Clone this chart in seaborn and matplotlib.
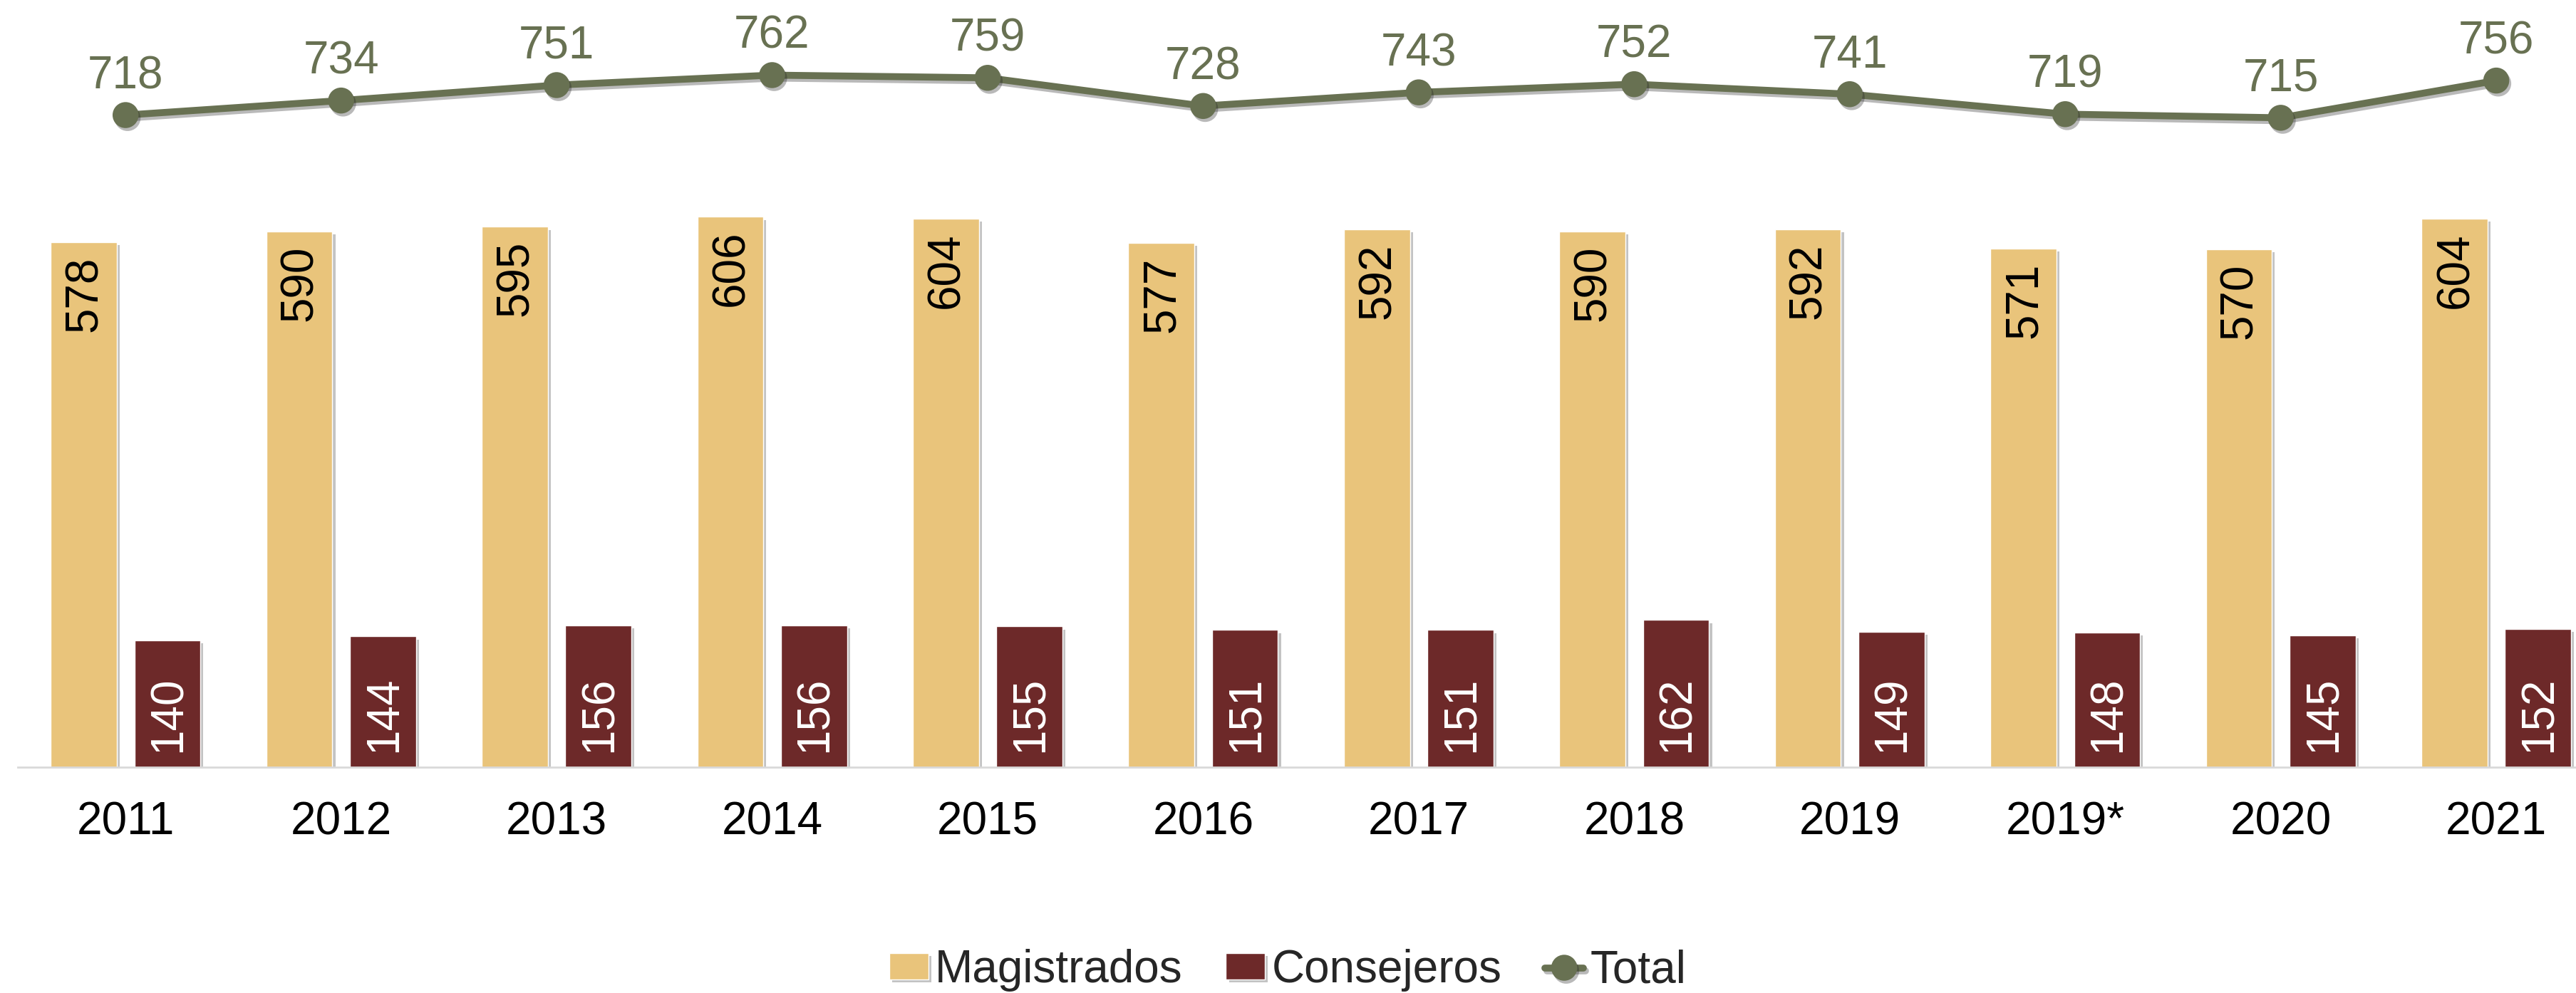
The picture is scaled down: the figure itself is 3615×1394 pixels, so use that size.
import pandas as pd
import matplotlib
matplotlib.use("Agg")
import matplotlib.pyplot as plt
import matplotlib.patheffects as pe
import seaborn as sns

# values
years = ['2011', '2012', '2013', '2014', '2015', '2016', '2017', '2018', '2019', '2019*', '2020', '2021']
magistrados = [578, 590, 595, 606, 604, 577, 592, 590, 592, 571, 570, 604]
consejeros = [140, 144, 156, 156, 155, 151, 151, 162, 149, 148, 145, 152]
total = [718, 734, 751, 762, 759, 728, 743, 752, 741, 719, 715, 756]

series_names = ['Magistrados', 'Consejeros']
colors = ['#E9C47B', '#6D2929']
line_color = '#687152'

sns.set_theme(style='white')
plt.rcParams['font.family'] = ['Liberation Sans', 'DejaVu Sans']

# long format for seaborn
df = pd.DataFrame({
    'year': years * 2,
    'value': magistrados + consejeros,
    'serie': [series_names[0]] * len(years) + [series_names[1]] * len(years),
})

fig = plt.figure(figsize=(36.15, 13.94), dpi=100)
ax = fig.add_axes([25 / 3615, 0.2274, 1 - 25 / 3615, 0.7726])

sns.barplot(data=df, x='year', y='value', hue='serie', order=years,
            hue_order=series_names, palette=colors, width=0.776, gap=0.21,
            saturation=1, ax=ax, legend=True)

sns.pointplot(x=years, y=total, order=years, color=line_color, markers='o',
              markersize=21, linewidth=7, ax=ax, label='Total')

shadow = [pe.withSimplePatchShadow(offset=(3, -3), shadow_rgbFace='#555555', alpha=0.35)]
for p in ax.patches:
    p.set_path_effects(shadow)
for ln in ax.lines:
    ln.set_path_effects([pe.SimpleLineShadow(offset=(2, -3), alpha=0.3), pe.Normal()])

fs = 46
# labels on bars
for cont, name in zip(ax.containers, series_names):
    for bar, val in zip(cont, cont.datavalues):
        cx = bar.get_x() + bar.get_width() / 2
        if name == 'Magistrados':
            ax.annotate(f'{int(val)}', (cx, bar.get_height()), xytext=(1, -14),
                        textcoords='offset points', rotation=90, rotation_mode='anchor',
                        ha='right', va='center', fontsize=fs, color='black')
        else:
            ax.annotate(f'{int(val)}', (cx, 0), xytext=(1, 15),
                        textcoords='offset points', rotation=90, rotation_mode='anchor',
                        ha='left', va='center', fontsize=fs, color='white')

# labels on the total line
for i, val in enumerate(total):
    ax.annotate(f'{val}', (i, val), xytext=(0, 27), textcoords='offset points',
                ha='center', va='baseline', fontsize=fs, color=line_color)

ax.set_xlim(-0.5, 11.37)
ax.set_ylim(0, 844.7)
ax.set_xlabel('')
ax.set_ylabel('')
ax.set_yticks([])
ax.tick_params(axis='x', length=0, pad=34, labelsize=fs, labelcolor='black')
for s in ['top', 'right', 'left']:
    ax.spines[s].set_visible(False)
ax.spines['bottom'].set_color('#D9D9D9')
ax.spines['bottom'].set_linewidth(2)

handles, labels = ax.get_legend_handles_labels()
ax.get_legend().remove()
fig.legend(handles, labels, loc='center', bbox_to_anchor=(0.5, 1 - 1362 / 1394),
           ncol=3, frameon=False, fontsize=fs, handlelength=0.85, handleheight=0.5,
           handletextpad=0.15, columnspacing=0.95)

fig.savefig('out.png', dpi=100)
